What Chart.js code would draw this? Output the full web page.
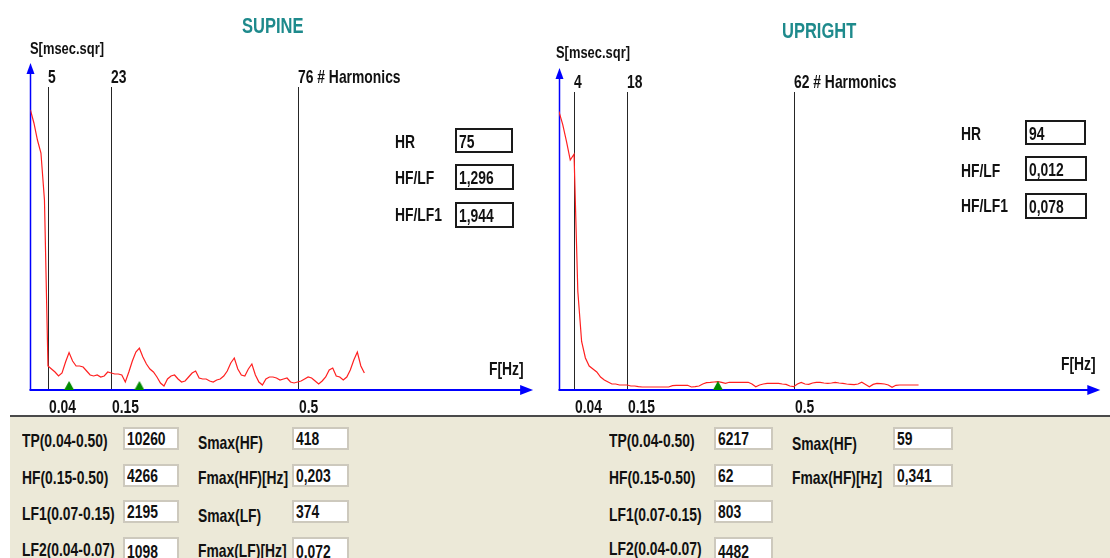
<!DOCTYPE html>
<html><head><meta charset="utf-8">
<script src="https://cdn.jsdelivr.net/npm/chart.js@4.4.1/dist/chart.umd.min.js"></script>
<style>
html,body{margin:0;padding:0;background:#fff;}
#root{position:relative;width:1110px;height:558px;overflow:hidden;background:#fff;font-family:"Liberation Sans",Arial,sans-serif;}
.t{position:absolute;white-space:nowrap;font-weight:bold;font-size:18.5px;color:#111;line-height:1;transform:scaleX(0.75);transform-origin:0 0;}
.title{color:#1e8a8c;font-size:22px;}
.box{position:absolute;background:#fff;border:2px solid #1a1a1a;box-sizing:border-box;font-weight:bold;font-size:18.5px;line-height:1;padding:3px 0 0 2px;color:#111;white-space:nowrap;}
.pbox{position:absolute;background:#fff;border:2px solid #cdc9bd;box-sizing:border-box;font-weight:bold;font-size:18.5px;line-height:1;padding:1px 0 0 2px;color:#111;white-space:nowrap;height:23px;}
.box span,.pbox span{display:inline-block;transform:scaleX(0.75);transform-origin:0 0;}
.cw{position:absolute;top:0;}
#panel{position:absolute;left:10px;top:415px;width:1100px;height:143px;background:#ece9d8;border-top:2px solid #4a4a4a;}
</style>
</head><body>
<div id="root">
  <div class="cw" style="left:0;width:550px;height:420px;"><canvas id="c1" width="550" height="420"></canvas></div>
  <div class="cw" style="left:540px;width:570px;height:420px;"><canvas id="c2" width="570" height="420"></canvas></div>

  <div class="t title" style="left:242px;top:15px;">SUPINE</div>
  <div class="t title" style="left:782px;top:20px;">UPRIGHT</div>
  <div class="t" style="left:30px;top:40px;font-size:17px;transform:scaleX(0.76);">S[msec.sqr]</div>
  <div class="t" style="left:556px;top:44px;font-size:17px;transform:scaleX(0.76);">S[msec.sqr]</div>
  <div class="t" style="left:489px;top:360px;">F[Hz]</div>
  <div class="t" style="left:1061px;top:355px;">F[Hz]</div>

  <div class="t" style="left:395px;top:133px;">HR</div>
  <div class="t" style="left:395px;top:169px;">HF/LF</div>
  <div class="t" style="left:395px;top:206px;">HF/LF1</div>
  <div class="box" style="left:455px;top:128px;width:58px;height:25px;"><span>75</span></div>
  <div class="box" style="left:455px;top:164px;width:59px;height:26px;"><span>1,296</span></div>
  <div class="box" style="left:455px;top:202px;width:59px;height:26px;"><span>1,944</span></div>

  <div class="t" style="left:961px;top:125px;">HR</div>
  <div class="t" style="left:961px;top:162px;">HF/LF</div>
  <div class="t" style="left:961px;top:197px;">HF/LF1</div>
  <div class="box" style="left:1025px;top:120px;width:61px;height:25px;"><span>94</span></div>
  <div class="box" style="left:1025px;top:156px;width:62px;height:25px;"><span>0,012</span></div>
  <div class="box" style="left:1025px;top:193px;width:62px;height:26px;"><span>0,078</span></div>

  <div id="panel"></div>
  <div class="t" style="left:22px;top:432px;">TP(0.04-0.50)</div>
  <div class="t" style="left:22px;top:469px;">HF(0.15-0.50)</div>
  <div class="t" style="left:22px;top:505px;">LF1(0.07-0.15)</div>
  <div class="t" style="left:22px;top:541px;">LF2(0.04-0.07)</div>
  <div class="pbox" style="left:123px;top:427px;width:56px;"><span>10260</span></div>
  <div class="pbox" style="left:123px;top:464px;width:56px;"><span>4266</span></div>
  <div class="pbox" style="left:123px;top:500px;width:56px;"><span>2195</span></div>
  <div class="pbox" style="left:123px;top:537px;width:56px;padding-top:4px;"><span>1098</span></div>
  <div class="t" style="left:198px;top:434px;">Smax(HF)</div>
  <div class="t" style="left:198px;top:469px;">Fmax(HF)[Hz]</div>
  <div class="t" style="left:198px;top:507px;">Smax(LF)</div>
  <div class="t" style="left:198px;top:542px;">Fmax(LF)[Hz]</div>
  <div class="pbox" style="left:292px;top:427px;width:57px;"><span>418</span></div>
  <div class="pbox" style="left:292px;top:464px;width:57px;"><span>0,203</span></div>
  <div class="pbox" style="left:292px;top:500px;width:57px;"><span>374</span></div>
  <div class="pbox" style="left:292px;top:537px;width:57px;padding-top:4px;"><span>0,072</span></div>

  <div class="t" style="left:609px;top:432px;">TP(0.04-0.50)</div>
  <div class="t" style="left:609px;top:469px;">HF(0.15-0.50)</div>
  <div class="t" style="left:609px;top:506px;">LF1(0.07-0.15)</div>
  <div class="t" style="left:609px;top:540px;">LF2(0.04-0.07)</div>
  <div class="pbox" style="left:714px;top:427px;width:59px;"><span>6217</span></div>
  <div class="pbox" style="left:714px;top:464px;width:59px;"><span>62</span></div>
  <div class="pbox" style="left:714px;top:500px;width:59px;"><span>803</span></div>
  <div class="pbox" style="left:714px;top:537px;width:59px;padding-top:4px;"><span>4482</span></div>
  <div class="t" style="left:792px;top:435px;">Smax(HF)</div>
  <div class="t" style="left:792px;top:469px;">Fmax(HF)[Hz]</div>
  <div class="pbox" style="left:893px;top:427px;width:60px;"><span>59</span></div>
  <div class="pbox" style="left:893px;top:464px;width:60px;"><span>0,341</span></div>
</div>
<script>
// ---------- DATA ----------
// Spectral power S [msec^2] per harmonic index 0..95
const supineSpectrum = [2800,2670,2500,2370,1900,240,210,180,140,170,
  280,374,290,240,240,230,190,150,140,150,
  130,140,180,170,160,160,150,80,180,290,
  380,418,330,260,210,180,130,70,40,110,
  140,150,110,80,90,130,170,190,120,110,
  110,90,80,100,110,140,190,270,320,210,
  150,140,210,260,150,80,50,110,130,130,
  120,100,110,120,80,70,80,90,110,130,
  120,90,60,90,130,200,220,140,130,100,
  130,200,300,380,240,170];
const uprightSpectrum = [1950,1860,1740,1610,1650,690,340,224,168,147,
  126,91,70,56,42,42,35,35,35,28,
  28,24,21,21,21,21,21,21,21,21,
  31,33,33,33,33,21,24,28,42,51,
  53,56,59,53,47,54,54,54,54,54,
  54,42,23,35,42,46,47,47,47,42,
  39,28,23,42,53,42,39,49,54,53,
  49,46,49,53,49,46,42,40,37,42,
  54,39,23,39,46,44,42,35,19,33,
  35,35,35,35,35,35];
// band limit harmonics and their labels
const supineBandHarmonics = [5, 23, 76];
const uprightBandHarmonics = [4, 18, 62];
const bandFreqLabels = ['0.04', '0.15', '0.5'];
const supineHarmonicLabels = ['5', '23', '76 # Harmonics'];
const uprightHarmonicLabels = ['4', '18', '62 # Harmonics'];
// spectral peak markers (harmonic index)
const supinePeaks = [11, 31];
const uprightPeaks = [42];
// axis ranges
const harmonicMax = 143;
const supineYMax = 3270;
const uprightYMax = 2254;

const FONT = '"Liberation Sans",Arial,sans-serif';

function toXY(arr){ return arr.map((v,i)=>({x:i,y:v})); }
function peakPoints(arr){ return arr.map(h=>({x:h,y:0})); }

// green triangle marker image (base at centre so it sits on the axis)
const tri = document.createElement('canvas');
tri.width = 10; tri.height = 20;
(function(){const c=tri.getContext('2d');c.fillStyle='#008a00';c.beginPath();c.moveTo(0,10);c.lineTo(10,10);c.lineTo(5,1);c.closePath();c.fill();})();

function narrowText(ctx, txt, x, y){
  ctx.save(); ctx.translate(x, y); ctx.scale(0.75, 1); ctx.fillText(txt, 0, 0); ctx.restore();
}

const hrvPlugin = {
  id:'hrv',
  beforeDatasetsDraw(chart, args, o){
    const {ctx, chartArea:a, scales:{x,y}} = chart;
    const x0 = Math.round(x.getPixelForValue(0)) + 0.5;
    const y0 = Math.round(y.getPixelForValue(0));
    ctx.save();
    // band lines + labels
    ctx.strokeStyle = '#262626'; ctx.lineWidth = 1;
    ctx.fillStyle = '#111'; ctx.textAlign = 'left'; ctx.textBaseline = 'alphabetic';
    ctx.font = 'bold 18.5px ' + FONT;
    o.markers.forEach((h,i)=>{
      const px = Math.round(x.getPixelForValue(h)) + 0.5;
      ctx.beginPath(); ctx.moveTo(px, a.top + o.lineTop); ctx.lineTo(px, y0); ctx.stroke();
      narrowText(ctx, o.topLabels[i], px - 0.5, a.top + o.lineTop - 4);
      narrowText(ctx, o.bottomLabels[i], px + 0.5, y0 + 23);
    });
    // axes
    ctx.strokeStyle = '#0000ff'; ctx.fillStyle = '#0000ff';
    ctx.lineWidth = 2;
    ctx.beginPath(); ctx.moveTo(x0 - 1, y0); ctx.lineTo(a.right - 8, y0); ctx.stroke();
    ctx.beginPath(); ctx.moveTo(a.right, y0); ctx.lineTo(a.right - 13, y0 - 5); ctx.lineTo(a.right - 13, y0 + 5); ctx.closePath(); ctx.fill();
    ctx.lineWidth = 1.5;
    ctx.beginPath(); ctx.moveTo(x0, y0); ctx.lineTo(x0, a.top + 8); ctx.stroke();
    ctx.beginPath(); ctx.moveTo(x0, a.top); ctx.lineTo(x0 - 4, a.top + 11); ctx.lineTo(x0 + 4, a.top + 11); ctx.closePath(); ctx.fill();
    ctx.restore();
  }
};

function makeChart(id, spectrum, peaks, yMax, pad, markers, topLabels){
  return new Chart(document.getElementById(id), {
    data:{datasets:[
      {type:'line', data:toXY(spectrum), borderColor:'#ff2020', borderWidth:1.2, pointRadius:0, tension:0, fill:false, order:2},
      {type:'scatter', data:peakPoints(peaks), pointStyle:tri, pointRadius:5, clip:false, order:1}
    ]},
    options:{
      responsive:false, animation:false, events:[],
      layout:{padding:pad},
      plugins:{legend:{display:false}, tooltip:{enabled:false},
        hrv:{markers:markers, topLabels:topLabels, bottomLabels:bandFreqLabels, lineTop:24}},
      scales:{
        x:{type:'linear', min:0, max:harmonicMax, display:false},
        y:{type:'linear', min:0, max:yMax, display:false}
      }
    },
    plugins:[hrvPlugin]
  });
}
makeChart('c1', supineSpectrum, supinePeaks, supineYMax, {left:30.4, top:63, right:16.9, bottom:30}, supineBandHarmonics, supineHarmonicLabels);
makeChart('c2', uprightSpectrum, uprightPeaks, uprightYMax, {left:18.9, top:68, right:9.7, bottom:30}, uprightBandHarmonics, uprightHarmonicLabels);
</script>
</body></html>
